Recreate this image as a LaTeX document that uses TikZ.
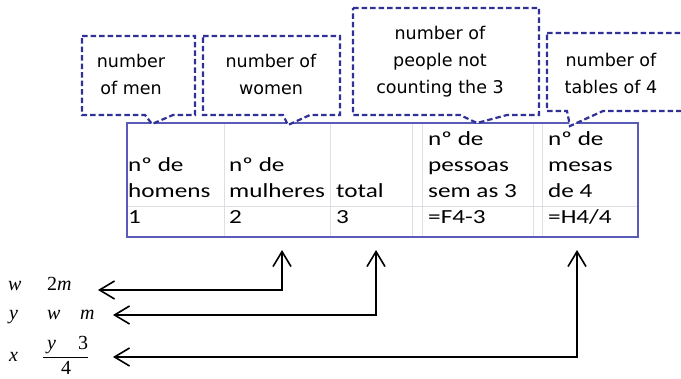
\documentclass[tikz,border=0pt]{standalone}
\usepackage{fontspec}
\usetikzlibrary{arrows.meta}
\newfontfamily\callfont{DejaVu Sans}
\newfontfamily\tabfont[FakeStretch=1.26]{Carlito}
\newfontfamily\mfont{Liberation Serif}
\definecolor{callblue}{RGB}{48,48,150}
\definecolor{tabblue}{RGB}{90,90,185}
\definecolor{gridgray}{RGB}{222,222,228}
\tikzset{
  calloutline/.style={draw=callblue, line width=2.2pt, dash pattern=on 5.5pt off 3pt, fill=white},
  calltext/.style={font=\callfont\fontsize{17.5}{27}\selectfont, align=center, inner sep=0pt},
  cell/.style={font=\tabfont\fontsize{20}{26}\selectfont, anchor=base west, inner sep=0pt},
  mth/.style={font=\mfont\itshape\fontsize{20}{22}\selectfont, anchor=base west, inner sep=0pt},
  mnum/.style={font=\mfont\fontsize{20}{22}\selectfont, anchor=base west, inner sep=0pt},
  link/.style={line width=2pt, {Straight Barb[length=15pt,width=18pt,line width=1.6pt]}-{Straight Barb[length=15pt,width=18pt,line width=1.6pt]}}
}
\begin{document}
\begin{tikzpicture}[x=1pt,y=-1pt]
\useasboundingbox (0,0) rectangle (681,379);
\fill[white] (0,0) rectangle (681,379);
% table grid
\draw[gridgray, line width=1pt] (126,207) -- (637,207);
\foreach \gx in {224,330,412,422,533,542} \draw[gridgray, line width=1pt] (\gx,122) -- (\gx,236);
\node[draw=tabblue, line width=2.2pt, minimum width=511pt, minimum height=114pt, inner sep=0pt, anchor=north west] (table) at (126,122) {};
% header cells
\node[cell] (h1a) at (128,172) {nº de};
\node[cell] (h1b) at (128,198) {homens};
\node[cell] (h2a) at (229,172) {nº de};
\node[cell] (h2b) at (229,198) {mulheres};
\node[cell] (h3b) at (336,198) {total};
\node[cell] (h4a) at (428,146) {nº de};
\node[cell] (h4b) at (428,172) {pessoas};
\node[cell] (h4c) at (428,198) {sem as 3};
\node[cell] (h5a) at (548,146) {nº de};
\node[cell] (h5b) at (548,172) {mesas};
\node[cell] (h5c) at (548,198) {de 4};
\node[cell] (d1) at (128,224) {1};
\node[cell] (d2) at (229,224) {2};
\node[cell] (d3) at (336,224) {3};
\node[cell] (d4) at (428,224) {=F4-3};
\node[cell] (d5) at (548,224) {=H4/4};
% callouts
\draw[calloutline] (82,36) -- (195,36) -- (195,115) -- (173,115) -- (152,124) -- (145,115) -- (82,115) -- cycle;
\draw[calloutline] (203,36) -- (340,36) -- (340,115) -- (310,115) -- (288,125) -- (283,115) -- (203,115) -- cycle;
\draw[calloutline] (353,8) -- (539,8) -- (539,115) -- (507,115) -- (477,123) -- (460,115) -- (353,115) -- cycle;
\draw[calloutline] (547,33) -- (690,33) -- (690,111) -- (603,111) -- (570,126) -- (567,111) -- (547,111) -- cycle;
\node[calltext] (c1) at (131,74) {number\\of men};
\node[calltext] (c2) at (271,74) {number of\\women};
\node[calltext] (c3) at (440,62) {number of\\people not\\counting the 3};
\node[calltext] (c4) at (611,73) {number of\\tables of 4};
% left labels
\node[mth] (w1) at (8,291) {w};
\node[mnum] (r1a) at (47,291) {2};
\node[mth] (r1b) at (57,291) {m};
\node[mth] (y2) at (9,320) {y};
\node[mth] (r2a) at (47,320) {w};
\node[mth] (r2b) at (80,320) {m};
\node[mth] (x3) at (9,362) {x};
\node[mth] (n3a) at (47,350) {y};
\node[mnum] (n3b) at (78,350) {3};
\node[mnum] (d3b) at (61,375) {4};
\draw[line width=1pt] (43,358) -- (88,358);
% connectors
\coordinate (l1) at (98,290); \coordinate (k1) at (282,290); \coordinate (u1) at (282,250);
\coordinate (l2) at (113,315); \coordinate (k2) at (376,315); \coordinate (u2) at (376,250);
\coordinate (l3) at (113,357); \coordinate (k3) at (577,357); \coordinate (u3) at (577,250);
\draw[link] (l1) -- (k1) -- (u1);
\draw[link] (l2) -- (k2) -- (u2);
\draw[link] (l3) -- (k3) -- (u3);
\end{tikzpicture}
\end{document}
